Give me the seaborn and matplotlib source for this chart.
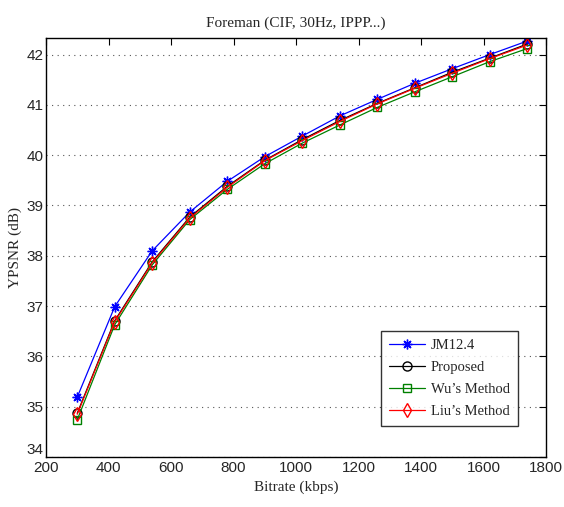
import matplotlib
matplotlib.use("Agg")
import matplotlib.pyplot as plt
import seaborn as sns
import pandas as pd

bitrate = [300, 420, 540, 660, 780, 900, 1020, 1140, 1260, 1380, 1500, 1620, 1740]
jm124 = [35.19, 36.99, 38.10, 38.87, 39.48, 39.97, 40.38, 40.78, 41.11, 41.43, 41.72, 42.00, 42.27]
proposed = [34.87, 36.71, 37.88, 38.77, 39.38, 39.90, 40.31, 40.69, 41.03, 41.34, 41.65, 41.93, 42.21]
wu = [34.74, 36.63, 37.82, 38.72, 39.32, 39.83, 40.24, 40.60, 40.95, 41.26, 41.56, 41.86, 42.12]
liu = [34.85, 36.69, 37.86, 38.75, 39.36, 39.89, 40.29, 40.67, 41.02, 41.33, 41.63, 41.92, 42.19]
series_names = ["JM12.4", "Proposed", "Wu\u2019s Method", "Liu\u2019s Method"]
xticks = [200, 400, 600, 800, 1000, 1200, 1400, 1600, 1800]
yticks = [34, 35, 36, 37, 38, 39, 40, 41, 42]

sns.set_style("white")
plt.rcParams['font.family'] = ['Liberation Sans', 'DejaVu Sans']

fig = plt.figure(figsize=(5.64, 5.07), dpi=100)
ax = fig.add_axes([46/564, 50/507, 500/564, 419/507])

styles = [
    dict(color="#0000ff", marker=(8, 2, 0), ms=7, mfc="#0000ff", mec="#0000ff"),
    dict(color="black", marker="o", ms=6.5, mfc="none", mec="black"),
    dict(color="#008000", marker="s", ms=5.5, mfc="none", mec="#008000"),
    dict(color="#ff0000", marker="d", ms=7.5, mfc="none", mec="#ff0000"),
]
for name, vals, st in zip(series_names, [jm124, proposed, wu, liu], styles):
    df = pd.DataFrame({"x": bitrate, "y": vals})
    sns.lineplot(data=df, x="x", y="y", ax=ax, label=name, color=st["color"],
                 marker=st["marker"], markersize=st["ms"], markerfacecolor=st["mfc"],
                 markeredgecolor=st["mec"], markeredgewidth=1.0, linewidth=0.9)

ax.set_xlim(200, 1800)
ax.set_ylim(34, 42.33)
ax.set_xticks(xticks)
ax.set_yticks(yticks)
ax.tick_params(direction="in", top=True, right=True, length=5, width=0.8,
               labelsize=11, pad=2, color="black")
ax.tick_params(axis="x", pad=3)
ax.yaxis.grid(True, linestyle=(0, (1, 4)), color="#555555", linewidth=0.8)
ax.xaxis.grid(False)
for sp in ax.spines.values():
    sp.set_color("black")
    sp.set_linewidth(1.0)
ax.get_yticklabels()[0].set_verticalalignment("bottom")

serif = ['Liberation Serif', 'DejaVu Serif']
ax.set_title("Foreman (CIF, 30Hz, IPPP...)", family=serif, fontsize=11, pad=8)
ax.set_xlabel("Bitrate (kbps)", family=serif, fontsize=11, labelpad=4)
ax.set_ylabel("YPSNR (dB)", family=serif, fontsize=11, labelpad=3)

leg = ax.legend(loc="lower right", bbox_to_anchor=(0.944, 0.074), borderaxespad=0,
                prop={'family': serif, 'size': 10.5}, frameon=True, fancybox=False,
                edgecolor="black", handlelength=2.5, borderpad=0.55, labelspacing=0.6,
                handletextpad=0.4)
leg.get_frame().set_linewidth(1.0)

fig.savefig("out.png", dpi=100)
